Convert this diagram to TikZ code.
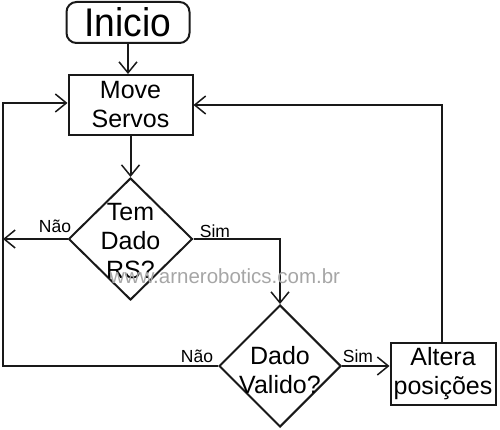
\documentclass[tikz,border=0pt]{standalone}
\usepackage{fontspec}
\setmainfont{Liberation Sans}
\usetikzlibrary{shapes.geometric,arrows.meta}
\begin{document}
\begin{tikzpicture}[x=1pt,y=-1pt,
  ln/.style={line width=2pt,draw=black!90},
  arr/.style={ln,-{Straight Barb[length=11pt,width=18pt,line width=1.5pt]}},
  boxstyle/.style={ln,rectangle,inner sep=0pt,font=\fontsize{25}{29}\selectfont,align=center},
  decision/.style={ln,diamond,inner sep=0pt},
  dtext/.style={font=\fontsize{25}{29}\selectfont,align=center},
  lab/.style={font=\fontsize{17.5}{18}\selectfont,anchor=base,inner sep=0pt}
]
\useasboundingbox (0,0) rectangle (500,430);
\node[ln,rounded corners=10pt,minimum width=123pt,minimum height=41pt,inner sep=0pt,
  font=\fontsize{40}{44}\selectfont] (ini) at (128,22.5) {\scalebox{0.93}[1]{Inicio}};
\node[boxstyle,minimum width=124pt,minimum height=60pt] (move) at (130.5,105) {Move\\Servos};
\node[decision,minimum width=124pt,minimum height=122pt] (d1) at (130.5,239) {};
\node[dtext] (d1t) at (130.5,241) {Tem\\Dado\\RS?};
\node[decision,minimum width=122pt,minimum height=122pt] (d2) at (280,366) {};
\node[dtext] (d2t) at (280,370) {Dado\\Valido?};
\node[boxstyle,minimum width=105pt,minimum height=62pt] (alt) at (443,374) {Altera\\posições};
\coordinate (cl) at (3,103);
\coordinate (cn) at (3,239);

\draw[arr] (ini.south) -- (ini.south |- move.north);
\draw[arr] (move.south) -- (d1.north);
\draw[arr] (d1.west) -- (cn);
\draw[arr] (d1.east) -| (d2.north);
\draw[arr] (d2.west) -| (cl) -- (cl -| move.west);
\draw[arr] (d2.east) -- (d2.east -| alt.west);
\draw[arr] ([xshift=-1pt]alt.north) |- (move.east);

\node[lab] (l1) at (55,233) {Não};
\node[lab] (l2) at (215,237) {Sim};
\node[lab] (l3) at (197,362) {Não};
\node[lab] (l4) at (358,362) {Sim};

\node[anchor=base,inner sep=0pt,text=black!35,font=\fontsize{20.5}{21}\selectfont] (wm) at (225,283) {www.arnerobotics.com.br};
\end{tikzpicture}
\end{document}
